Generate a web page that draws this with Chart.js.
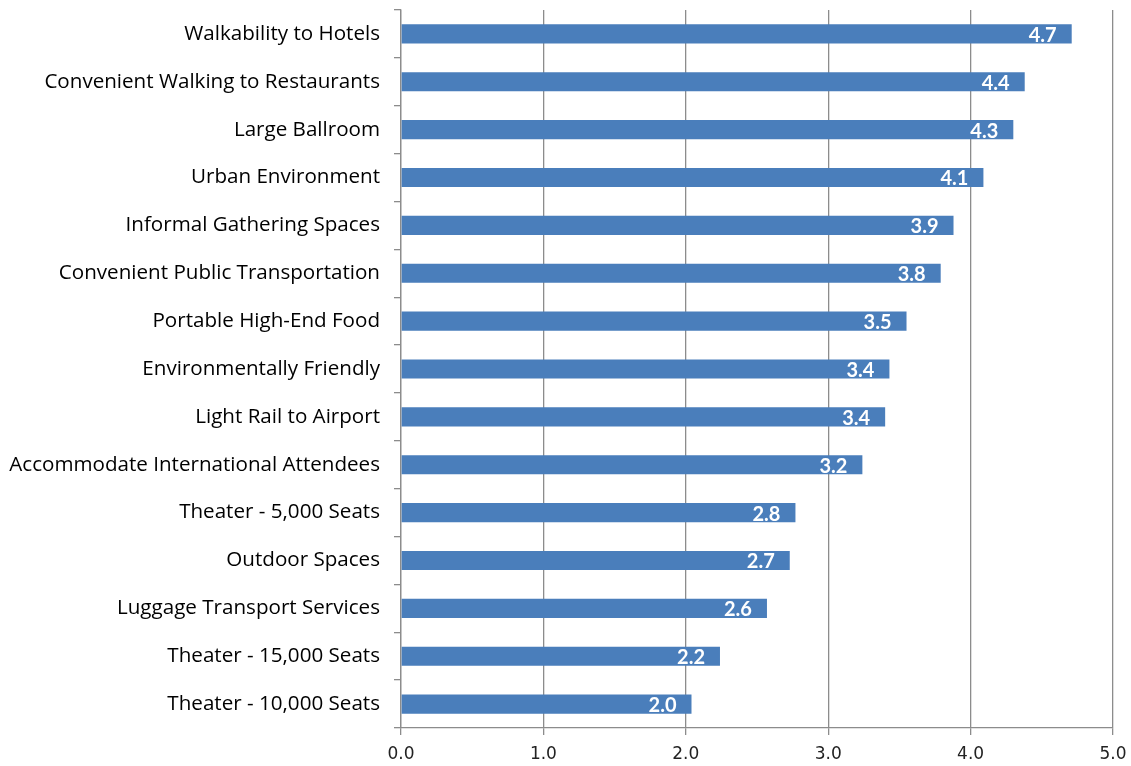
<!DOCTYPE html>
<html>
<head>
<meta charset="utf-8">
<script src="https://cdn.jsdelivr.net/npm/chart.js@4/dist/chart.umd.min.js"></script>
<style>
  html, body { margin: 0; padding: 0; background: #fff; }
  #wrap { width: 1131px; height: 766px; }
</style>
</head>
<body>
<div id="wrap"><canvas id="chart" width="1131" height="766"></canvas></div>
<script>
const categories = [
  'Walkability to Hotels',
  'Convenient Walking to Restaurants',
  'Large Ballroom',
  'Urban Environment',
  'Informal Gathering Spaces',
  'Convenient Public Transportation',
  'Portable High-End Food',
  'Environmentally Friendly',
  'Light Rail to Airport',
  'Accommodate International Attendees',
  'Theater - 5,000 Seats',
  'Outdoor Spaces',
  'Luggage Transport Services',
  'Theater - 15,000 Seats',
  'Theater - 10,000 Seats'
];
const scores = [4.71, 4.38, 4.30, 4.09, 3.88, 3.79, 3.55, 3.43, 3.40, 3.24, 2.77, 2.73, 2.57, 2.24, 2.04];

const axisGrey = '#8c8c8c';

// value labels drawn inside the bar end, like Excel's "inside end"
const valueLabels = {
  id: 'valueLabels',
  afterDatasetsDraw(chart) {
    const ctx = chart.ctx;
    const meta = chart.getDatasetMeta(0);
    ctx.save();
    ctx.fillStyle = '#ffffff';
    ctx.font = 'bold 20px Lato';
    ctx.textAlign = 'right';
    ctx.textBaseline = 'middle';
    meta.data.forEach((bar, i) => {
      ctx.fillText(scores[i].toFixed(1), bar.x - 15, bar.y + 1.5);
    });
    ctx.restore();
  }
};

new Chart(document.getElementById('chart'), {
  type: 'bar',
  data: {
    labels: categories,
    datasets: [{
      data: scores,
      backgroundColor: '#4a7ebb',
      borderWidth: 0,
      barPercentage: 0.4,
      categoryPercentage: 1.0
    }]
  },
  plugins: [valueLabels],
  options: {
    indexAxis: 'y',
    responsive: false,
    animation: false,
    layout: { padding: { top: 10, right: 18, bottom: 0, left: 0 } },
    plugins: {
      legend: { display: false },
      tooltip: { enabled: false }
    },
    scales: {
      x: {
        min: 0,
        max: 5,
        ticks: {
          stepSize: 1,
          color: '#222',
          font: { family: 'DejaVu Sans', size: 17 },
          padding: 9,
          callback: v => v.toFixed(1)
        },
        grid: { color: axisGrey, lineWidth: 1.3, tickLength: 7 },
        border: { color: axisGrey, width: 1.3 },
        afterFit(scale) {
          scale.height = 38;
          scale.paddingLeft = 0;
          scale.paddingRight = 0;
        }
      },
      y: {
        ticks: {
          color: '#000',
          font: { family: 'Open Sans', size: 20.6, weight: 500 },
          padding: 14
        },
        grid: { drawOnChartArea: false, color: axisGrey, lineWidth: 1.3, tickLength: 7, offset: true },
        border: { color: axisGrey, width: 1.3 },
        afterFit(scale) {
          scale.width = 401;
          scale.paddingTop = 0;
          scale.paddingBottom = 0;
        }
      }
    }
  }
});
</script>
</body>
</html>
